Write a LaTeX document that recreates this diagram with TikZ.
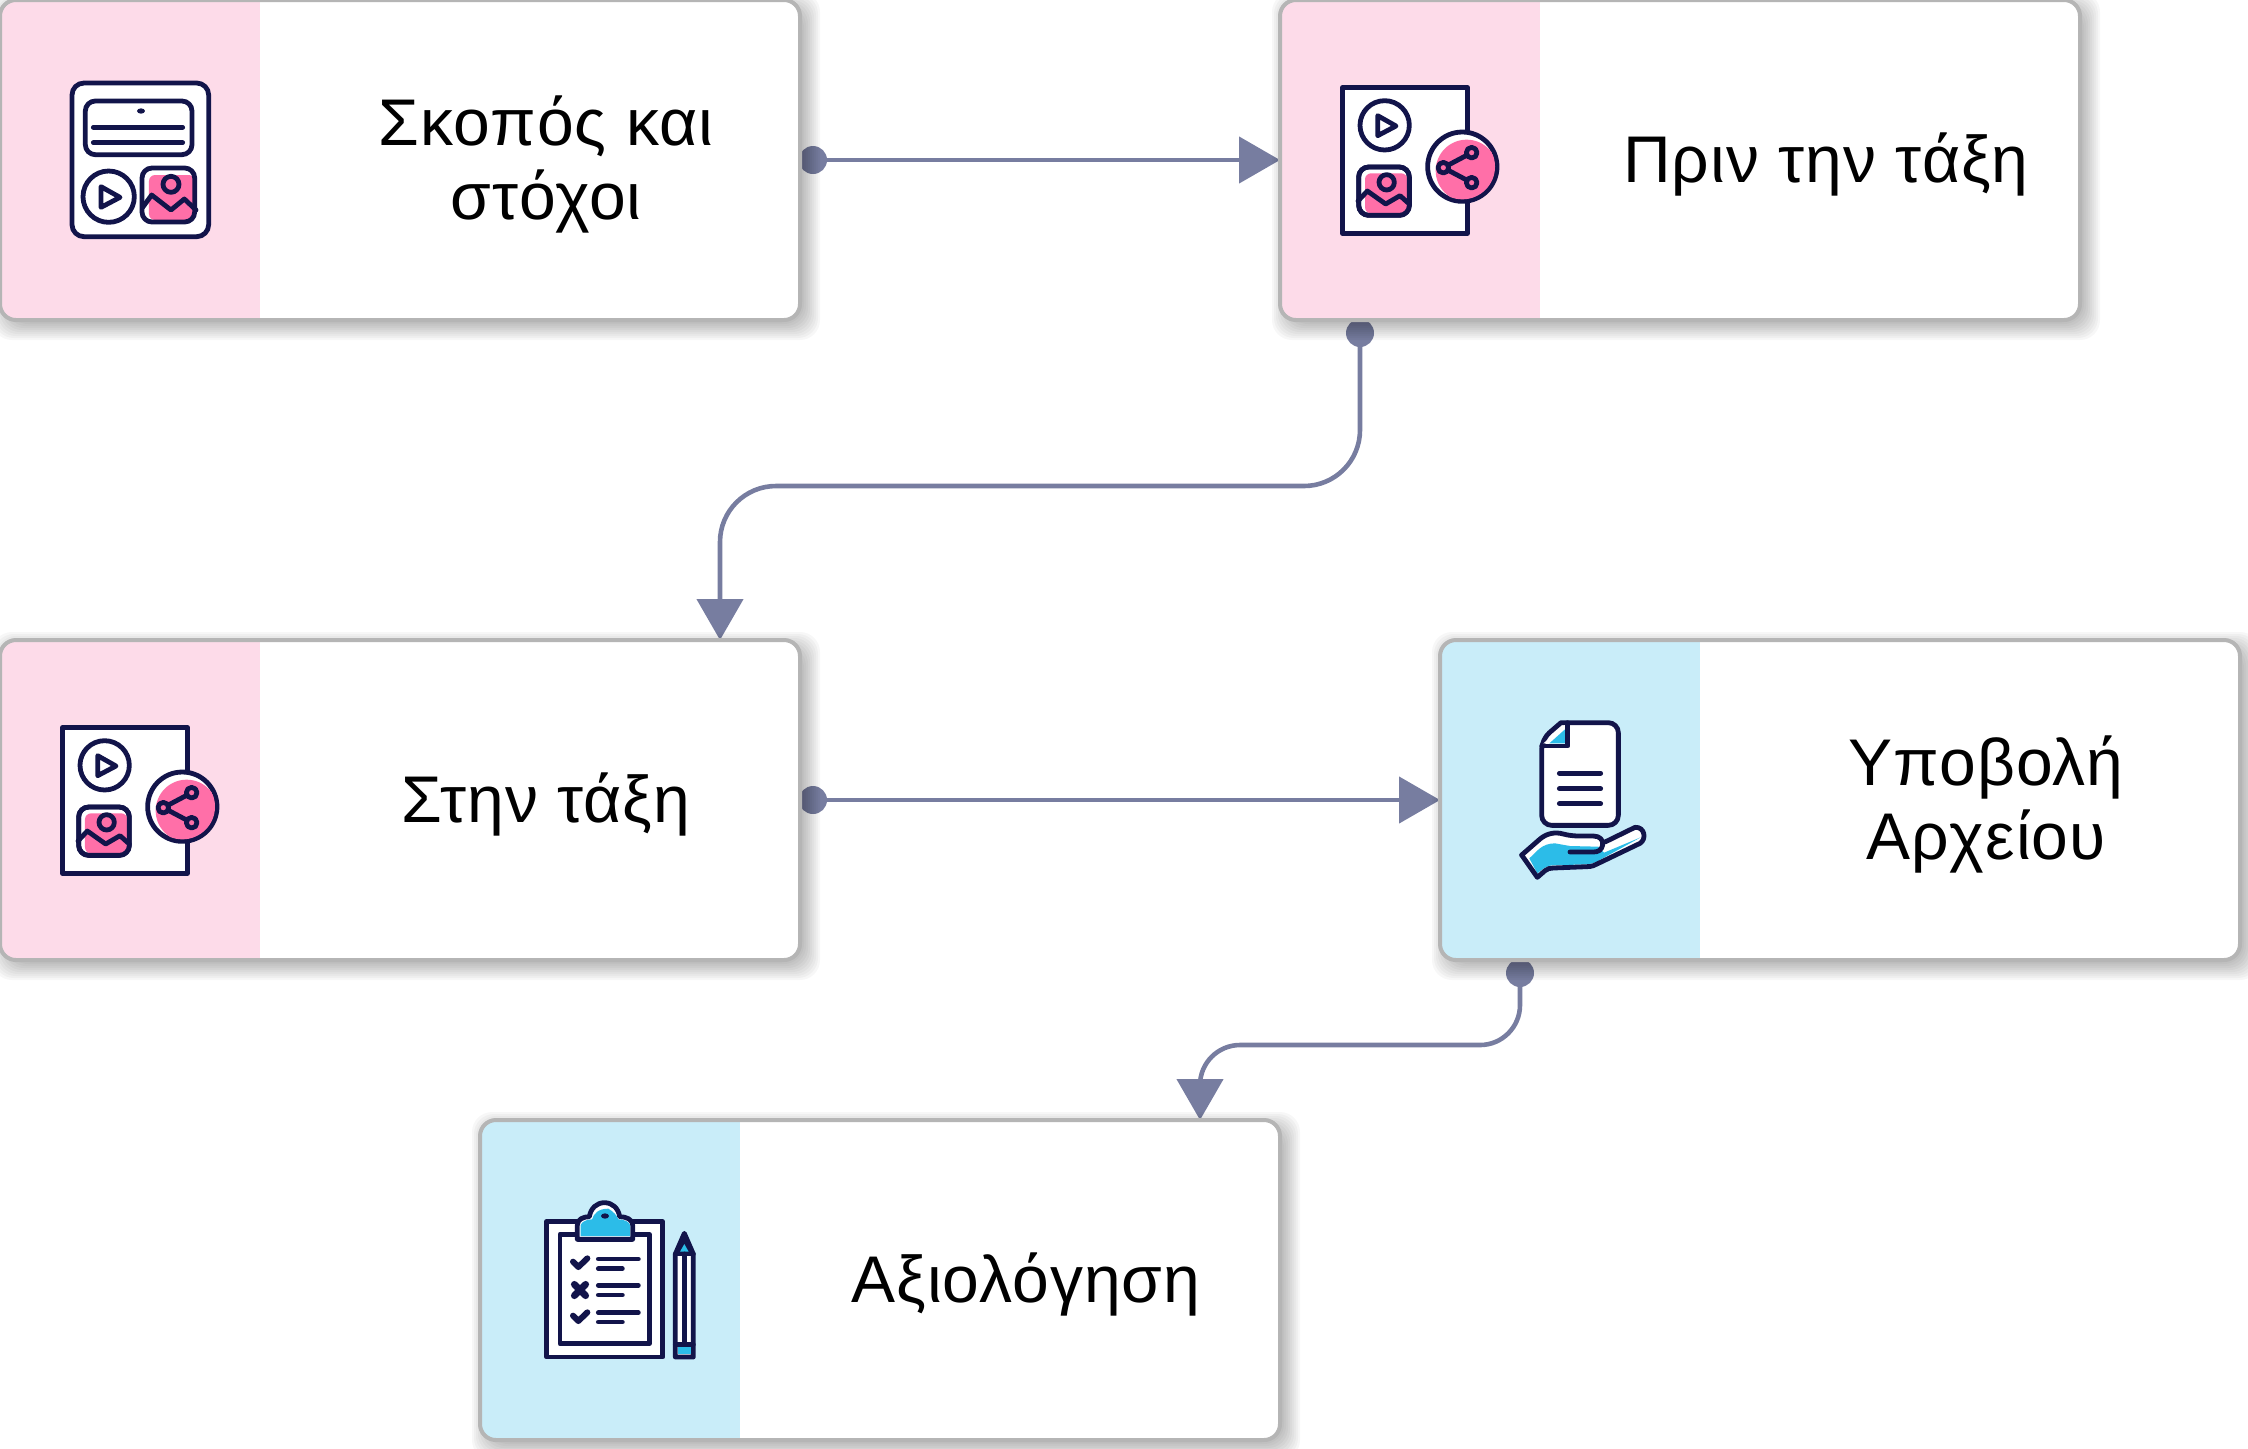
\documentclass[tikz,border=0pt]{standalone}
\usepackage{fontspec}
\setmainfont{Liberation Sans}
\newfontfamily\cardfont[LetterSpace=1.6]{Liberation Sans}
\usetikzlibrary{arrows.meta,backgrounds}
\definecolor{navyline}{HTML}{12144A}
\definecolor{hotpink}{HTML}{FF6FA8}
\definecolor{skyfill}{HTML}{2CBCE8}
\definecolor{pinktint}{HTML}{FDDBE9}
\definecolor{bluetint}{HTML}{C9EDF9}
\definecolor{linkcol}{HTML}{777DA0}
\definecolor{edgecol}{HTML}{B5B5B5}
\pgfdeclarelayer{shade}
\pgfsetlayers{background,shade,main}
\tikzset{
  cardbox/.style={draw=edgecol, line width=2pt, fill=white, rounded corners=8pt,
    inner sep=0pt, outer sep=0pt, minimum width=400pt, minimum height=160pt,
    path picture={\fill[#1, sharp corners] (path picture bounding box.north west) rectangle
      ([xshift=130pt]path picture bounding box.south west);}},
  cardtext/.style={align=center, text=black, font=\cardfont\fontsize{33}{37}\selectfont},
  portdot/.style={circle, fill=linkcol, inner sep=0pt, minimum size=14pt},
  link/.style={draw=linkcol, line width=2.3pt, -{Triangle[length=20.5pt,width=23pt]}},
  iconline/.style={draw=navyline, line width=2.4pt, line join=round, line cap=round},
  mediaicon/.pic={
    \draw[iconline, fill=white] (218,262) rectangle (592,700);
    \draw[iconline] (344,376) circle[radius=74];
    \draw[iconline] (323,347) -- (323,407) -- (378,378) -- cycle;
    \draw[iconline, fill=white, rounded corners=5pt] (266,501) rectangle (418,646);
    \fill[hotpink, rounded corners=3pt] (285,520) rectangle (412,640);
    \draw[iconline, rounded corners=5pt] (266,501) rectangle (418,646);
    \draw[iconline] (350,547) circle[radius=23];
    \draw[iconline] (264,603) -- (292,573) -- (347,612) -- (390,587) -- (418,612);
    \draw[iconline, fill=white] (577,500) circle[radius=104];
    \begin{scope}
      \clip (577,500) circle[radius=98];
      \fill[hotpink] (590,512) circle[radius=93];
    \end{scope}
    \draw[iconline] (605,458) -- (520,503) -- (605,548);
    \foreach \p in {(605,458),(520,503),(605,548)}
      \draw[iconline, fill=hotpink] \p circle[radius=16];
  },
  pageicon/.pic={
    \draw[iconline, fill=white, rounded corners=6pt] (216,249) rectangle (626,710);
    \draw[iconline, rounded corners=5pt] (256,303) rectangle (576,464);
    \fill[navyline] (423,333) ellipse[x radius=12, y radius=8];
    \draw[iconline] (280,382) -- (548,382);
    \draw[iconline] (280,428) -- (548,428);
    \draw[iconline] (326,590) circle[radius=77];
    \draw[iconline] (303,560) -- (303,622) -- (360,592) -- cycle;
    \fill[white, rounded corners=5pt] (426,504) rectangle (584,666);
    \fill[hotpink, rounded corners=3pt] (447,525) rectangle (584,660);
    \draw[iconline, rounded corners=5pt] (426,504) rectangle (584,666);
    \draw[iconline] (513,553) circle[radius=24];
    \draw[iconline] (428,622) -- (455,585) -- (513,630) -- (553,597) -- (588,630);
  },
  uploadicon/.pic={
    \draw[iconline, fill=white, rounded corners=5pt] (393,278) -- (565,278) -- (565,586) -- (335,586) -- (335,328) [sharp corners] -- cycle;
    \fill[white] (340,340) -- (405,340) -- (405,285) -- cycle;
    \fill[skyfill] (358,340) -- (405,340) -- (405,298) -- cycle;
    \draw[iconline] (335,348) -- (413,348) -- (413,278);
    \foreach \y in {430,476,521}
      \draw[iconline] (388,\y) -- (512,\y);
    \fill[white] (275,675) -- (330,627) .. controls (350,610) and (375,605) .. (400,612)
      .. controls (415,616) and (430,618) .. (450,618) -- (490,618) .. controls (510,618) and (520,625) .. (522,636)
      -- (615,592) .. controls (645,590) and (650,628) .. (630,640) -- (505,700)
      .. controls (495,706) and (485,710) .. (470,710) -- (370,714) .. controls (360,714) and (352,716) .. (345,722)
      -- (322,742) -- cycle;
    \fill[skyfill] (298,685) .. controls (320,665) and (335,640) .. (375,640) -- (420,648) -- (505,650) -- (522,668)
      -- (632,622) -- (500,695) .. controls (490,700) and (480,702) .. (470,703) -- (370,706)
      .. controls (355,706) and (350,710) .. (340,716) -- (322,730) -- cycle;
    \draw[iconline] (275,675) -- (330,627) .. controls (350,610) and (375,605) .. (400,612)
      .. controls (415,616) and (430,618) .. (450,618) -- (490,618) .. controls (510,618) and (520,630) .. (518,645)
      .. controls (515,660) and (505,666) .. (490,666) -- (420,666);
    \draw[iconline] (275,675) -- (322,742) -- (345,722) .. controls (352,716) and (360,714) .. (370,714)
      -- (470,710) .. controls (485,710) and (495,706) .. (505,700) -- (630,640)
      .. controls (650,628) and (645,590) .. (615,592) -- (525,636);
  },
  reviewicon/.pic={
    \draw[iconline, fill=white] (230,335) rectangle (578,741);
    \draw[iconline, fill=white] (270,373) rectangle (538,701);
    \draw[iconline, fill=white] (322,388) -- (322,345) .. controls (322,328) and (340,320) .. (358,320)
      .. controls (362,295) and (380,278) .. (403,278) .. controls (428,278) and (445,295) .. (449,320)
      .. controls (468,320) and (488,328) .. (488,345) -- (488,388) -- cycle;
    \fill[skyfill] (332,378) -- (332,345) .. controls (335,335) and (350,328) .. (366,328)
      .. controls (372,310) and (385,296) .. (415,296) .. controls (430,305) and (440,315) .. (445,328)
      .. controls (462,328) and (478,335) .. (480,345) -- (480,378) -- cycle;
    \fill[navyline] (405,318) ellipse[x radius=12, y radius=8];
    \foreach \y in {0,162} {
      \draw[iconline, line width=3pt] (309,455+\y) -- (325,471+\y) -- (352,445+\y);
    }
    \draw[iconline, line width=3.4pt] (313,523) -- (347,557);
    \draw[iconline, line width=3.4pt] (347,523) -- (313,557);
    \foreach \y/\z in {447/476,526/555,608/636} {
      \draw[iconline] (385,\y) -- (505,\y);
      \draw[iconline] (385,\z) -- (457,\z);
    }
    \draw[iconline, fill=white] (643,370) -- (616,432) -- (616,741) -- (670,741) -- (670,432) -- cycle;
    \fill[navyline] (643,370) -- (616,432) -- (670,432) -- cycle;
    \fill[skyfill] (643,402) -- (630,425) -- (656,425) -- cycle;
    \draw[iconline] (616,432) -- (670,432);
    \draw[iconline] (643,432) -- (643,700);
    \draw[iconline] (616,704) -- (670,704);
    \fill[skyfill] (624,712) rectangle (662,733);
  }
}

\begin{document}
\begin{tikzpicture}[x=0.5pt, y=-0.5pt]
  \useasboundingbox (0,0) rectangle (2248,1448);

  \node[cardbox=pinktint] (goalcard)   at (400,160)   {};
  \node[cardbox=pinktint] (beforecard) at (1680,160)  {};
  \node[cardbox=pinktint] (classcard)  at (400,800)   {};
  \node[cardbox=bluetint] (uploadcard) at (1840,800)  {};
  \node[cardbox=bluetint] (assesscard) at (880,1280)  {};

  \node[cardtext] (goaltext)   at (546,164)  {Σκοπός και\\στόχοι};
  \node[cardtext] (beforetext) at (1826,164) {Πριν την τάξη};
  \node[cardtext] (classtext)  at (546,804)  {Στην τάξη};
  \node[cardtext] (uploadtext) at (1986,804) {Υποβολή\\Αρχείου};
  \node[cardtext] (assesstext) at (1026,1284) {Αξιολόγηση};

  \pic[scale=1/3] at (0,0)      {pageicon};
  \pic[scale=1/3] at (1270,0)   {mediaicon};
  \pic[scale=1/3] at (-10,640)  {mediaicon};
  \pic[scale=1/3] at (1430,630) {uploadicon};
  \pic[scale=1/3] at (470,1110) {reviewicon};

  % soft shadow under every card
  \begin{pgfonlayer}{shade}
    \foreach \c in {goalcard,beforecard,classcard,uploadcard,assesscard}
      \foreach \o in {-8,-6,...,14}
        \fill[black, opacity=0.032, rounded corners=10pt]
          ([shift={(6-\o,6-\o)}]\c.north west) rectangle ([shift={(6+\o,6+\o)}]\c.south east);
  \end{pgfonlayer}

  \begin{scope}[on background layer]
    \node[portdot] (goaldot)   at (813,160)  {};
    \node[portdot] (beforedot) at (1360,333) {};
    \node[portdot] (classdot)  at (813,800)  {};
    \node[portdot] (uploaddot) at (1520,973) {};
    \coordinate (classin)   at (720,640);
    \coordinate (assessin)  at (1200,1120);
    \coordinate (beforemid) at (1000,486);
    \coordinate (uploadmid) at (1400,1045);

    \draw[link] (goaldot) -- (beforecard.west);
    \draw[link, rounded corners=28pt] (beforedot.center) |- (beforemid) -| (classin);
    \draw[link] (classdot) -- (uploadcard.west);
    \draw[link, rounded corners=20pt] (uploaddot.center) |- (uploadmid) -| (assessin);
  \end{scope}
\end{tikzpicture}
\end{document}
